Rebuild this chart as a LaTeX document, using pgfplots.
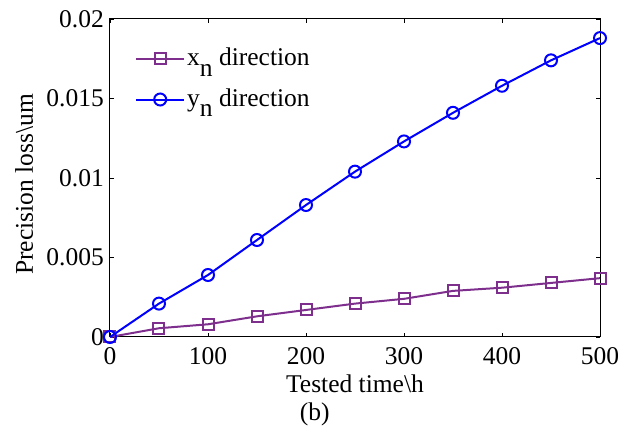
\documentclass[border=0pt]{standalone}
\usepackage{fontspec}
\setmainfont{Liberation Serif}
\usepackage{pgfplots}
\pgfplotsset{compat=1.18}
\definecolor{mpurple}{RGB}{126,47,142}
\definecolor{mblue}{RGB}{0,0,255}
\newcommand{\sub}[1]{\raisebox{-0.4em}{#1}}

\begin{document}
\fontsize{25.5}{30}\selectfont
\begin{tikzpicture}
\useasboundingbox (-110pt,-90pt) rectangle (524pt,337pt);
\begin{axis}[
    at={(0,0)}, anchor=south west,
    scale only axis,
    width=490pt, height=318pt,
    xmin=0, xmax=500, ymin=0, ymax=0.02,
    xtick={0,100,200,300,400,500},
    xticklabels={0,100,200,300,400,500},
    ytick={0,0.005,0.01,0.015,0.02},
    yticklabels={0,0.005,0.01,0.015,0.02},
    scaled y ticks=false,
    tick align=inside,
    major tick length=4pt,
    tick style={black, line width=0.8pt},
    axis line style={black, line width=1pt},
    ticklabel style={font=\fontsize{25.5}{30}\selectfont, inner sep=0pt},
    yticklabel style={xshift=-6pt},
    xticklabel style={yshift=-10pt},
    xlabel={Tested time\textbackslash h},
    ylabel={Precision loss\textbackslash um},
    label style={font=\fontsize{25.5}{30}\selectfont},
    xlabel style={at={(axis description cs:0.5,-0.173)}, anchor=base},
    ylabel style={at={(axis description cs:-0.175,0.48)}, anchor=center},
    legend cell align=left,
    legend style={draw=none, fill=none, font=\fontsize{25.5}{30}\selectfont,
        at={(axis description cs:0.051,0.915)}, anchor=north west,
        inner sep=0pt, row sep=15pt},
    legend image code/.code={
        \draw[mark repeat=2, mark phase=2]
        plot coordinates {(0pt,0pt) (24pt,0pt) (48pt,0pt)};
    },
    clip=false,
]
\addplot[mpurple, line width=2pt, mark=square, mark size=5.5pt,
    mark options={line width=2pt}] coordinates {
    (0,0) (50,0.00055) (100,0.0008) (150,0.0013) (200,0.0017) (250,0.0021)
    (300,0.0024) (350,0.0029) (400,0.0031) (450,0.0034) (500,0.0037)
};
\addplot[mblue, line width=2pt, mark=o, mark size=6pt,
    mark options={line width=2pt}] coordinates {
    (0,0) (50,0.0021) (100,0.0039) (150,0.0061) (200,0.0083) (250,0.0104)
    (300,0.0123) (350,0.0141) (400,0.0158) (450,0.0174) (500,0.0188)
};
\legend{x\sub{n} direction, y\sub{n} direction}
\node[anchor=base, font=\fontsize{25.5}{30}\selectfont]
    at (axis description cs:0.418,-0.264) {(b)};
\end{axis}
\end{tikzpicture}
\end{document}
